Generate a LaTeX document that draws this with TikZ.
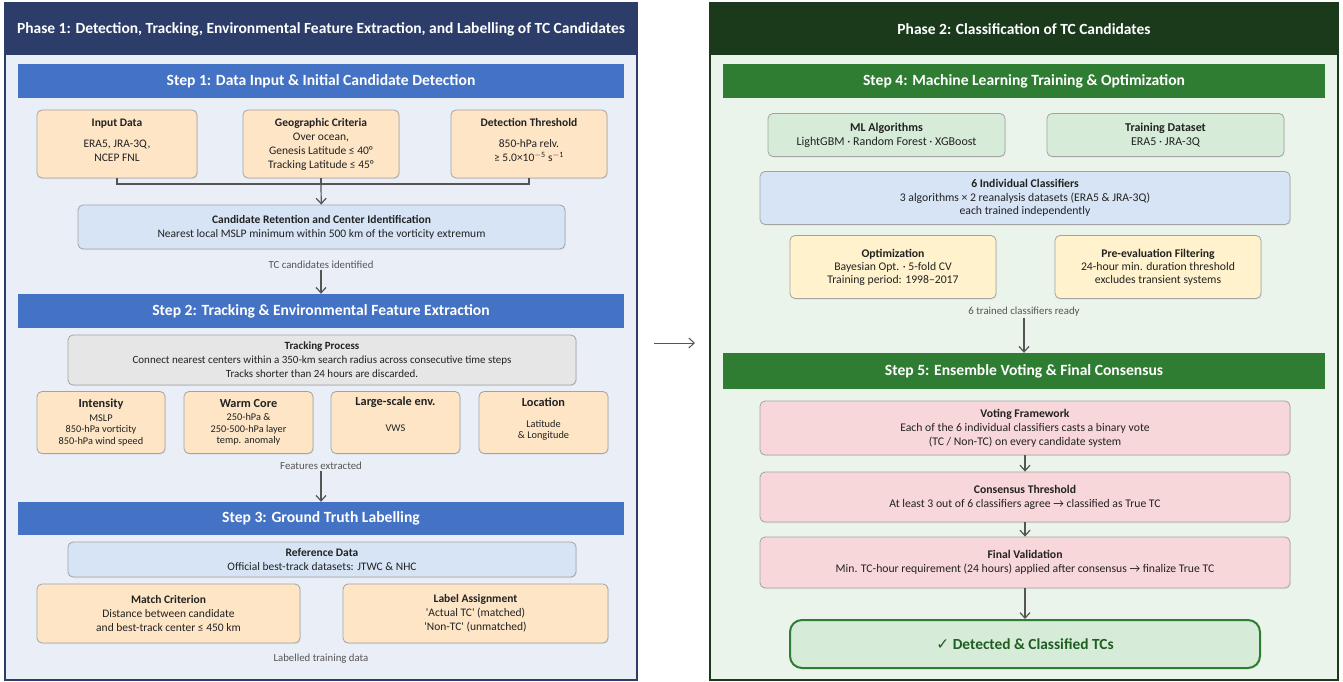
\documentclass[tikz,border=0pt]{standalone}
\usepackage{fontspec}
\setmainfont{Carlito}
\newfontfamily\symfont{DejaVu Sans}
\newfontfamily\quotefont{Carlito}
\newcommand{\sq}{{\quotefont'}}
\usetikzlibrary{arrows.meta,shadows}

\definecolor{navyhead}{HTML}{2C3D6A}
\definecolor{stepblue}{HTML}{4472C4}
\definecolor{bgblue}{HTML}{E9EEF7}
\definecolor{greenhead}{HTML}{1B3A1C}
\definecolor{stepgreen}{HTML}{2E7D32}
\definecolor{bggreen}{HTML}{EAF4EA}
\definecolor{peach}{HTML}{FDE5C6}
\definecolor{lightblue}{HTML}{D6E4F5}
\definecolor{lightgray}{HTML}{E6E6E6}
\definecolor{lightgreen}{HTML}{D6ECD9}
\definecolor{lightyellow}{HTML}{FFF2CC}
\definecolor{pink}{HTML}{F8D7DA}
\definecolor{boxline}{HTML}{A3A3A3}
\definecolor{textdark}{HTML}{222222}
\definecolor{captiongray}{HTML}{555555}
\definecolor{arrowgray}{HTML}{555555}
\definecolor{donetext}{HTML}{1E5E21}

\begin{document}
\begin{tikzpicture}[x = 1pt, y = -1pt,
		box/.style = {draw = boxline, line width = 0.8pt, rounded corners = 5pt, align = center, text = textdark, inner sep = 2pt, font = \fontsize{11.5}{14}\selectfont, drop shadow = {opacity = 0.12, shadow xshift = 0.8pt, shadow yshift = -1pt}},
		boxtwo/.style = {box, font = \fontsize{11.7}{14}\selectfont},
		featbox/.style = {box, fill = peach, minimum width = 129pt, minimum height = 62pt, font = \fontsize{10.3}{11.5}\selectfont},
		stepbar/.style = {text = white, font = \bfseries\fontsize{15.6}{18}\selectfont, minimum height = 34pt},
		phasehead/.style = {text = white, font = \bfseries\fontsize{15.5}{18}\selectfont, minimum height = 52pt},
		caption/.style = {text = captiongray, font = \fontsize{10.8}{13}\selectfont, inner sep = 1pt},
		flow/.style = {draw = arrowgray, line width = 1.2pt, -{Straight Barb[length = 5.5pt, width = 10pt]}},
		link/.style = {draw = arrowgray, line width = 1.2pt}
	]
	\useasboundingbox (0, 0) rectangle (1343, 682);
	\fill[white] (0, 0) rectangle (1343, 682);

	\node [fill = bgblue, draw = navyhead, line width = 2pt, minimum width = 632pt, minimum height = 677pt] (ph1) at (321, 341.5) {};
	\node [phasehead, fill = navyhead, minimum width = 632pt] (head1) at (321, 29) {Phase 1: Detection, Tracking, Environmental Feature Extraction, and Labelling of TC Candidates};

	\node [stepbar, fill = stepblue, minimum width = 606pt] (s1) at (321, 81) {Step 1: Data Input \& Initial Candidate Detection};
	\node [box, fill = peach, minimum width = 160pt, minimum height = 68pt] (inp) at (117, 144) {\textbf{Input Data}\\[7pt]ERA5, JRA-3Q,\\NCEP FNL\\[-6pt]};
	\node [box, fill = peach, minimum width = 156pt, minimum height = 68pt] (geo) at (321, 144) {\textbf{Geographic Criteria}\\Over ocean,\\Genesis Latitude ≤ 40°\\Tracking Latitude ≤ 45°};
	\node [box, fill = peach, minimum width = 156pt, minimum height = 68pt] (det) at (529, 144) {\textbf{Detection Threshold}\\[7pt]850-hPa relv.\\≥ 5.0×10\textsuperscript{$-$5} s\textsuperscript{$-$1}\\[-6pt]};
	\coordinate (join) at (321, 184);
	\node [box, fill = lightblue, minimum width = 487pt, minimum height = 44pt] (cand) at (321.5, 227) {\textbf{Candidate Retention and Center Identification}\\Nearest local MSLP minimum within 500 km of the vorticity extremum};
	\node [caption] (cap1) at (321, 265) {TC candidates identified};

	\node [stepbar, fill = stepblue, minimum width = 606pt] (s2) at (321, 311) {Step 2: Tracking \& Environmental Feature Extraction};
	\node [box, fill = lightgray, minimum width = 508pt, minimum height = 50pt, font = \fontsize{11}{14}\selectfont] (track) at (322, 360) {\textbf{Tracking Process}\\Connect nearest centers within a 350-km search radius across consecutive time steps\\Tracks shorter than 24 hours are discarded.};
	\node [featbox, minimum width = 128pt] (inten) at (101, 422.5) {{\fontsize{12.3}{14}\selectfont\textbf{Intensity}}\\[2pt]MSLP\\850-hPa vorticity\\850-hPa wind speed};
	\node [featbox] (warm) at (248.5, 422.5) {{\fontsize{12.3}{14}\selectfont\textbf{Warm Core}}\\[2pt]250-hPa \&\\250-500-hPa layer\\temp. anomaly};
	\node [featbox] (env) at (395.5, 422.5) {{\fontsize{12.3}{14}\selectfont\textbf{Large-scale env.}}\\[15pt]VWS\\[5pt]};
	\node [featbox] (loc) at (543.5, 422.5) {{\fontsize{12.3}{14}\selectfont\textbf{Location}}\\[9pt]Latitude\\\& Longitude\\[-3pt]};
	\node [caption] (cap2) at (321, 466) {Features extracted};

	\node [stepbar, fill = stepblue, minimum width = 606pt, minimum height = 33pt] (s3) at (321, 518.5) {Step 3: Ground Truth Labelling};
	\node [box, fill = lightblue, minimum width = 508pt, minimum height = 35pt] (ref) at (322, 559.5) {\textbf{Reference Data}\\Official best-track datasets: JTWC \& NHC};
	\node [box, fill = peach, minimum width = 263pt, minimum height = 59pt] (match) at (168.5, 613.5) {\textbf{Match Criterion}\\Distance between candidate\\and best-track center ≤ 450 km};
	\node [box, fill = peach, minimum width = 265pt, minimum height = 59pt] (lab) at (475.5, 613.5) {\textbf{Label Assignment}\\\sq Actual TC\sq\ (matched)\\\sq Non-TC\sq\ (unmatched)};
	\node [caption] (cap3) at (321, 659) {Labelled training data};

	\draw [link] (inp.south) |- (join);
	\draw [link] (det.south) |- (join);
	\draw [link] (geo.south) -- (join);
	\draw [flow] (join) -- (cand);
	\draw [flow] (cap1) -- (s2);
	\draw [flow] (cap2) -- (s3);

	\node [fill = bggreen, draw = greenhead, line width = 2pt, minimum width = 628pt, minimum height = 677pt] (ph2) at (1024, 341.5) {};
	\node [phasehead, fill = greenhead, minimum width = 628pt] (head2) at (1024, 29) {Phase 2: Classification of TC Candidates};

	\node [stepbar, fill = stepgreen, minimum width = 602pt] (s4) at (1024, 81) {Step 4: Machine Learning Training \& Optimization};
	\node [boxtwo, fill = lightgreen, minimum width = 237pt, minimum height = 43pt, font = \fontsize{12}{14}\selectfont] (ml) at (886.5, 135) {\textbf{ML Algorithms}\\LightGBM · Random Forest · XGBoost};
	\node [boxtwo, fill = lightgreen, minimum width = 237pt, minimum height = 43pt, font = \fontsize{12}{14}\selectfont] (train) at (1165.5, 135) {\textbf{Training Dataset}\\ERA5 · JRA-3Q};
	\node [boxtwo, fill = lightblue, minimum width = 530pt, minimum height = 53pt, font = \fontsize{11.7}{13.5}\selectfont] (six) at (1025, 198) {\textbf{6 Individual Classifiers}\\3 algorithms × 2 reanalysis datasets (ERA5 \& JRA-3Q)\\each trained independently};
	\node [boxtwo, fill = lightyellow, minimum width = 206pt, minimum height = 63pt, font = \fontsize{11.7}{13}\selectfont] (opt) at (893, 267) {\textbf{Optimization}\\Bayesian Opt. · 5-fold CV\\Training period: 1998–2017};
	\node [boxtwo, fill = lightyellow, minimum width = 206pt, minimum height = 63pt, font = \fontsize{11.7}{13}\selectfont] (pre) at (1158, 267) {\textbf{Pre-evaluation Filtering}\\24-hour min. duration threshold\\excludes transient systems};
	\node [caption] (cap4) at (1024, 312) {6 trained classifiers ready};

	\node [stepbar, fill = stepgreen, minimum width = 602pt, minimum height = 36pt] (s5) at (1024, 371) {Step 5: Ensemble Voting \& Final Consensus};
	\node [boxtwo, fill = pink, minimum width = 530pt, minimum height = 54pt] (vote) at (1025, 428) {\textbf{Voting Framework}\\Each of the 6 individual classifiers casts a binary vote\\(TC / Non-TC) on every candidate system};
	\node [boxtwo, fill = pink, minimum width = 530pt, minimum height = 50pt] (cons) at (1025, 497) {\textbf{Consensus Threshold}\\At least 3 out of 6 classifiers agree → classified as True TC};
	\node [boxtwo, fill = pink, minimum width = 530pt, minimum height = 51pt] (final) at (1025, 562.5) {\textbf{Final Validation}\\Min. TC-hour requirement (24 hours) applied after consensus → finalize True TC};
	\node [box, fill = lightgreen, draw = stepgreen, line width = 2pt, rounded corners = 12pt, minimum width = 470pt, minimum height = 48pt, text = donetext, font = \bfseries\fontsize{15.4}{18}\selectfont] (done) at (1025, 644) {{\symfont\mdseries ✓} Detected \& Classified TCs};

	\draw [flow] (cap4) -- (s5);
	\draw [flow] (vote) -- (cons);
	\draw [flow] (cons) -- (final);
	\draw [flow] (final) -- (done);

	\draw [flow, line width = 1pt] ([xshift = 16pt, yshift = -1.5pt]ph1.east) -- ([xshift = -14pt, yshift = -1.5pt]ph2.west);
\end{tikzpicture}
\end{document}
